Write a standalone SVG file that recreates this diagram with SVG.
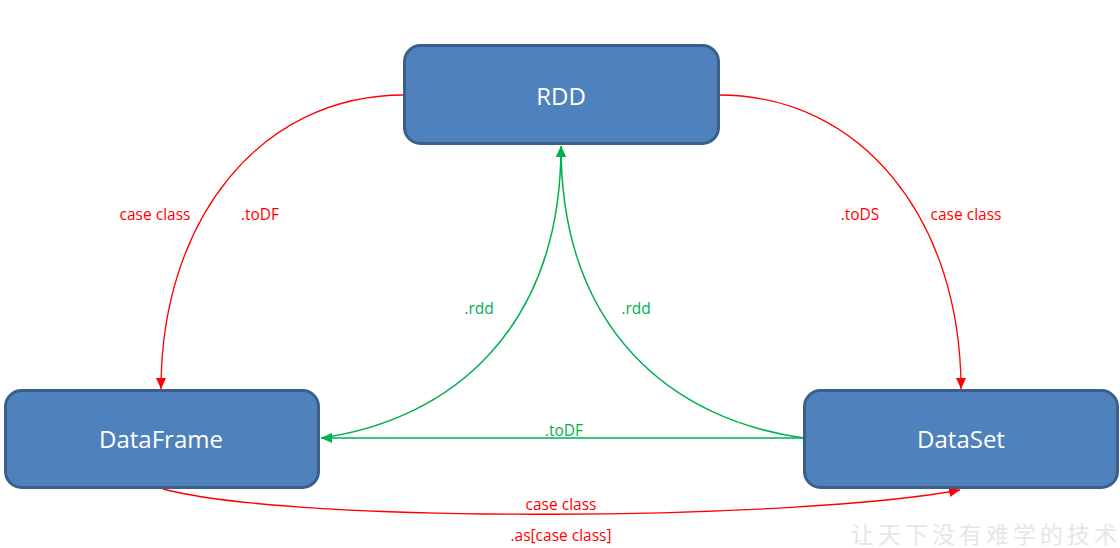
<svg xmlns="http://www.w3.org/2000/svg" width="1120" height="548" viewBox="0 0 1120 548">
<style>
.box{fill:#4F81BD;stroke:#3A5F8B;stroke-width:3}
.bt{font-family:"Open Sans","Noto Sans",sans-serif;font-size:24px;fill:#fff;text-anchor:middle}
.lbl{font-family:"Open Sans","Noto Sans",sans-serif;font-size:15.5px;text-anchor:middle}
.r{fill:#FF0000}
.g{fill:#00B050}
.cr{fill:none;stroke:#FF0000;stroke-width:1.3}
.cg{fill:none;stroke:#00B050;stroke-width:1.5}
.wm{font-family:"Noto Sans CJK SC",sans-serif;font-size:23px;fill:#e6e6e6;letter-spacing:4px}
</style>
<defs>
<marker id="ar" markerUnits="userSpaceOnUse" markerWidth="12" markerHeight="10" refX="11" refY="5" orient="auto"><path d="M0,0 L11,5 L0,10 Z" fill="#FF0000"/></marker>
<marker id="ag" markerUnits="userSpaceOnUse" markerWidth="12" markerHeight="10" refX="11" refY="5" orient="auto"><path d="M0,0 L11,5 L0,10 Z" fill="#00B050"/></marker>
</defs>
<rect width="1120" height="548" fill="#fff"/>
<text class="wm" x="851" y="543">让天下没有难学的技术</text>
<g id="connectors">
<path class="cr" d="M404,95 C260,95 161,220 161,389" marker-end="url(#ar)"/>
<path class="cr" d="M719,95 C862,95 961,220 961,389" marker-end="url(#ar)"/>
<path class="cr" d="M163,489 C300,525 800,520 960,490" marker-end="url(#ar)"/>
<path class="cg" d="M321,438 C450,420 561,330 561,146" marker-end="url(#ag)"/>
<path class="cg" d="M804,438 C672,420 561,330 561,146" marker-end="url(#ag)"/>
<path class="cg" d="M804,438 L321,438" marker-end="url(#ag)"/>
<text class="lbl r" x="155" y="220">case class</text>
<text class="lbl r" x="260" y="220">.toDF</text>
<text class="lbl r" x="860" y="220">.toDS</text>
<text class="lbl r" x="966" y="220">case class</text>
<text class="lbl g" x="479" y="314">.rdd</text>
<text class="lbl g" x="636" y="314">.rdd</text>
<text class="lbl g" x="564" y="436">.toDF</text>
<text class="lbl r" x="561" y="510">case class</text>
<text class="lbl r" x="561" y="541">.as[case class]</text>
</g>
<g id="rdd">
<rect class="box" x="404.5" y="45.5" width="314" height="98" rx="16"/>
<text class="bt" x="561" y="105">RDD</text>
</g>
<g id="dataframe">
<rect class="box" x="5.5" y="390.5" width="313" height="97" rx="16"/>
<text class="bt" x="161" y="448">DataFrame</text>
</g>
<g id="dataset">
<rect class="box" x="804.5" y="390.5" width="313" height="97" rx="16"/>
<text class="bt" x="961" y="448">DataSet</text>
</g>
</svg>
